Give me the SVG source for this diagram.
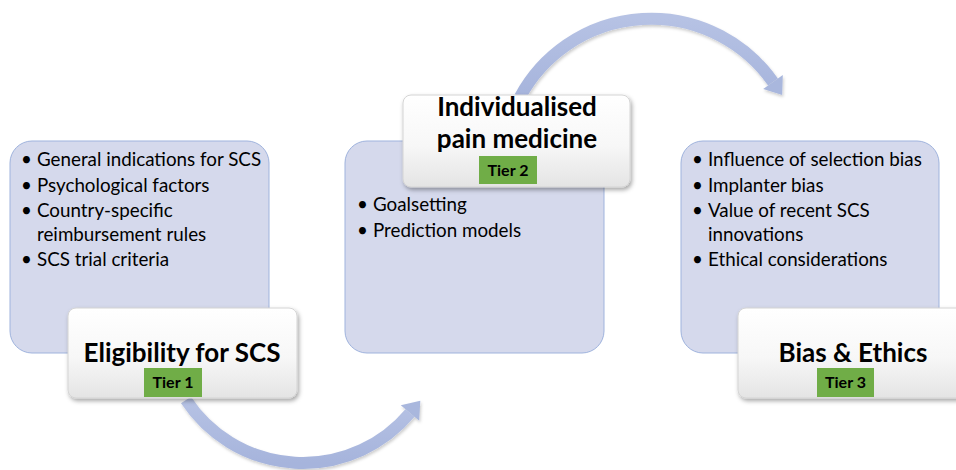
<svg xmlns="http://www.w3.org/2000/svg" width="956" height="470" viewBox="0 0 956 470">
<defs>
<style>
.panel{fill:#d5d9ec;stroke:#9fb3dd;stroke-width:1}
.label{fill:url(#lg);stroke:#d4d4d4;stroke-width:1;filter:url(#sh)}
.tier{fill:#70ad47}
.bul{font-family:Lato,"Liberation Sans",sans-serif;font-size:18.8px;fill:#000}
.head{font-family:Lato,"Liberation Sans",sans-serif;font-size:26px;font-weight:bold;fill:#000;text-anchor:middle}
.tt{font-family:Lato,"Liberation Sans",sans-serif;font-size:16px;font-weight:bold;fill:#000;text-anchor:middle}
.arc{fill:none;stroke:url(#ag);stroke-width:12}
.ah{fill:#a9b7dd}
</style>
<linearGradient id="lg" x1="0" y1="0" x2="0" y2="1">
<stop offset="0" stop-color="#ffffff"/>
<stop offset="0.55" stop-color="#f7f7f7"/>
<stop offset="1" stop-color="#e4e4e4"/>
</linearGradient>
<linearGradient id="ag" x1="0" y1="0" x2="0" y2="1">
<stop offset="0" stop-color="#b6c2e4"/>
<stop offset="1" stop-color="#a6b4dc"/>
</linearGradient>
<filter id="sh" x="-10%" y="-10%" width="130%" height="140%">
<feDropShadow dx="1.5" dy="2.5" stdDeviation="2" flood-color="#000" flood-opacity="0.35"/>
</filter>
<filter id="sh2" x="-10%" y="-10%" width="130%" height="140%">
<feDropShadow dx="1" dy="2" stdDeviation="1.5" flood-color="#000" flood-opacity="0.2"/>
</filter>
</defs>

<g id="panel1">
<rect class="panel" x="10" y="141" width="259" height="212" rx="22"/>
<text class="bul"><tspan x="21" y="166">•</tspan><tspan x="37" y="166">General indications for SCS</tspan></text>
<text class="bul"><tspan x="21" y="192">•</tspan><tspan x="37" y="192">Psychological factors</tspan></text>
<text class="bul"><tspan x="21" y="217">•</tspan><tspan x="37" y="217">Country-specific</tspan></text>
<text class="bul"><tspan x="37" y="241">reimbursement rules</tspan></text>
<text class="bul"><tspan x="21" y="266">•</tspan><tspan x="37" y="266">SCS trial criteria</tspan></text>
</g>

<g id="panel2">
<rect class="panel" x="345" y="141" width="259" height="212" rx="22"/>
<text class="bul"><tspan x="357" y="211">•</tspan><tspan x="373" y="211">Goalsetting</tspan></text>
<text class="bul"><tspan x="357" y="237">•</tspan><tspan x="373" y="237">Prediction models</tspan></text>
</g>

<g id="panel3">
<rect class="panel" x="681" y="141" width="258" height="212" rx="22"/>
<text class="bul"><tspan x="692" y="166">•</tspan><tspan x="708" y="166">Influence of selection bias</tspan></text>
<text class="bul"><tspan x="692" y="192">•</tspan><tspan x="708" y="192">Implanter bias</tspan></text>
<text class="bul"><tspan x="692" y="217">•</tspan><tspan x="708" y="217">Value of recent SCS</tspan></text>
<text class="bul"><tspan x="708" y="241">innovations</tspan></text>
<text class="bul"><tspan x="692" y="266">•</tspan><tspan x="708" y="266">Ethical considerations</tspan></text>
</g>

<g id="connectors" filter="url(#sh2)">
<path class="arc" d="M 186 400 A 140 140 0 0 0 410 413"/>
<polygon class="ah" points="420.3,400.7 419.2,420.7 400.8,405.3"/>
<path class="arc" d="M 520 97 A 149 149 0 0 1 773 82"/>
<polygon class="ah" points="782.2,95.1 782.8,75.1 763.2,88.9"/>
</g>

<g id="label1">
<rect class="label" x="68" y="308" width="229" height="90" rx="8"/>
<text class="head" x="182" y="362">Eligibility for SCS</text>
<rect class="tier" x="144" y="368" width="58" height="29"/>
<text class="tt" x="173" y="388">Tier 1</text>
</g>

<g id="label2">
<rect class="label" x="403" y="95" width="227" height="92" rx="8"/>
<text class="head" x="517" y="116">Individualised</text>
<text class="head" x="517" y="148">pain medicine</text>
<rect class="tier" x="479" y="156" width="58" height="28"/>
<text class="tt" x="508" y="176">Tier 2</text>
</g>

<g id="label3">
<rect class="label" x="738" y="308" width="231" height="90" rx="8"/>
<text class="head" x="853" y="362">Bias &amp; Ethics</text>
<rect class="tier" x="817" y="368" width="57" height="29"/>
<text class="tt" x="845.5" y="388">Tier 3</text>
</g>
</svg>
